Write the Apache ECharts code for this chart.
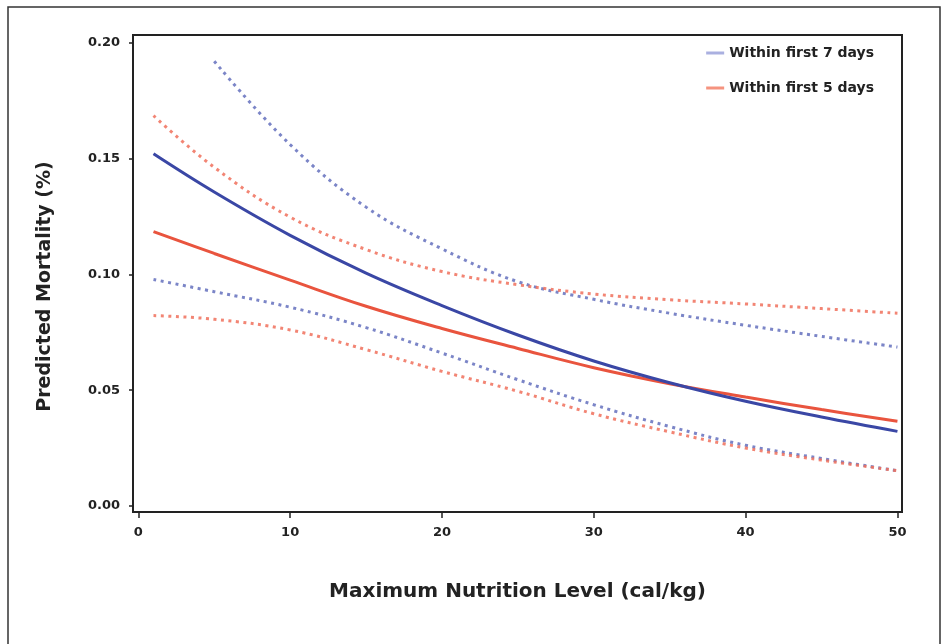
<!DOCTYPE html>
<html>
<head>
<meta charset="utf-8">
<script src="https://cdn.jsdelivr.net/npm/echarts@6/dist/echarts.min.js"></script>
<style>
    html, body { margin: 0; padding: 0; background: #fff; }
    #chart { width: 943px; height: 644px; }
</style>
</head>
<body>
<div id="chart"></div>
<script>
// nutrition level (cal/kg)
const nutrition = [1, 5, 10, 15, 20, 25, 30, 35, 40, 45, 50];

// within first 7 days: fit and confidence band
const day7Fit   = [0.152, 0.1355, 0.1168, 0.1005, 0.0865, 0.0738, 0.0626, 0.0532, 0.0452, 0.0384, 0.0322];
const day7Upper = [null, 0.192, 0.156, 0.129, 0.111, 0.0968, 0.0892, 0.0832, 0.0780, 0.0732, 0.0686];
const day7Lower = [0.0978, 0.0925, 0.0858, 0.0770, 0.0660, 0.0545, 0.0437, 0.0343, 0.0262, 0.0205, 0.0152];

// within first 5 days: fit and confidence band
const day5Fit   = [0.1184, 0.1090, 0.0975, 0.0862, 0.0766, 0.0680, 0.0597, 0.0528, 0.0470, 0.0416, 0.0366];
const day5Upper = [0.1685, 0.1462, 0.1247, 0.1107, 0.1012, 0.0955, 0.0915, 0.0890, 0.0872, 0.0852, 0.0832];
const day5Lower = [0.0822, 0.0806, 0.0760, 0.0675, 0.0581, 0.0495, 0.0398, 0.0320, 0.0250, 0.0198, 0.0152];

const xTicks = [0, 10, 20, 30, 40, 50];
const yTicks = [0, 0.05, 0.10, 0.15, 0.20];

const font = 'DejaVu Sans';
const textColor = '#222';
const blue = '#3a47a5';
const red = '#e9543e';
const blueDot = '#6470bd';
const redDot = '#f0705c';

function pairs(values) {
    return nutrition.map((x, i) => [x, values[i]]);
}

function curve(name, values, color, dotted) {
    return {
        name: name,
        type: 'line',
        data: pairs(values),
        smooth: 0.4,
        showSymbol: false,
        silent: true,
        lineStyle: {
            color: color,
            width: 3,
            type: dotted ? [3, 4.5] : 'solid',
            opacity: dotted ? 0.85 : 1
        },
        itemStyle: { color: color },
        z: dotted ? 2 : 3
    };
}

const chart = echarts.init(document.getElementById('chart'));
chart.setOption({
    animation: false,
    backgroundColor: '#fff',
    graphic: [{
        type: 'rect',
        shape: { x: 8, y: 7, width: 932, height: 680 },
        style: { fill: 'none', stroke: '#333', lineWidth: 1.5 },
        silent: true
    }],
    grid: {
        left: 133, top: 35, right: 41, bottom: 132,
        show: true, borderColor: '#222', borderWidth: 2
    },
    legend: {
        orient: 'vertical',
        right: 64,
        top: 41,
        itemGap: 21,
        itemWidth: 18,
        itemHeight: 3,
        icon: 'rect',
        textStyle: { color: textColor, fontFamily: font, fontWeight: 'bold', fontSize: 14 },
        data: [
            { name: 'Within first 7 days', itemStyle: { color: '#aab0e0' } },
            { name: 'Within first 5 days', itemStyle: { color: '#f5937f' } }
        ]
    },
    xAxis: {
        type: 'value',
        min: -0.35,
        max: 50.3,
        name: 'Maximum Nutrition Level (cal/kg)',
        nameLocation: 'middle',
        nameGap: 70,
        nameTextStyle: { color: textColor, fontFamily: font, fontWeight: 'bold', fontSize: 20 },
        axisLine: { onZero: false, lineStyle: { color: '#222', width: 2 } },
        axisTick: { show: true, length: 6, lineStyle: { color: '#222', width: 1.5 }, customValues: xTicks },
        axisLabel: { color: textColor, fontFamily: font, fontWeight: 'bold', fontSize: 13, margin: 14, customValues: xTicks },
        splitLine: { show: false }
    },
    yAxis: {
        type: 'value',
        min: -0.0026,
        max: 0.2033,
        name: 'Predicted Mortality (%)',
        nameLocation: 'middle',
        nameGap: 78,
        nameTextStyle: { color: textColor, fontFamily: font, fontWeight: 'bold', fontSize: 19, padding: [0, 26, 0, 0] },
        axisLine: { onZero: false, lineStyle: { color: '#222', width: 2 } },
        axisTick: { show: true, length: 4, lineStyle: { color: '#222', width: 1.5 }, customValues: yTicks },
        axisLabel: {
            color: textColor, fontFamily: font, fontWeight: 'bold', fontSize: 13, margin: 13,
            customValues: yTicks,
            formatter: (v) => v.toFixed(2)
        },
        splitLine: { show: false }
    },
    series: [
        curve('7 days upper', day7Upper, blueDot, true),
        curve('7 days lower', day7Lower, blueDot, true),
        curve('5 days upper', day5Upper, redDot, true),
        curve('5 days lower', day5Lower, redDot, true),
        curve('Within first 5 days', day5Fit, red, false),
        curve('Within first 7 days', day7Fit, blue, false)
    ]
});
</script>
</body>
</html>
